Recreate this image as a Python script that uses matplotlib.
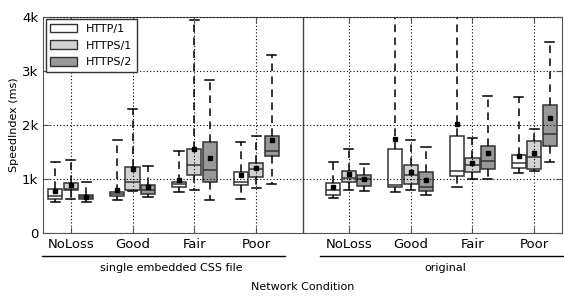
import matplotlib
matplotlib.use("Agg")
import matplotlib.pyplot as plt
from matplotlib.patches import Patch
from matplotlib.lines import Line2D

conditions = ["NoLoss", "Good", "Fair", "Poor"]
variants = ["single embedded CSS file", "original"]
protocols = ["HTTP/1", "HTTPS/1", "HTTPS/2"]

# rows: HTTP/1, HTTPS/1, HTTPS/2 ; columns: 4 conditions for each variant
whislo = [
    [570, 610, 760, 630, 650, 760, 850, 1100],
    [630, 780, 800, 840, 800, 800, 990, 1150],
    [570, 660, 610, 900, 770, 700, 990, 1310],
]
q1 = [
    [630, 690, 850, 880, 710, 850, 1050, 1200],
    [800, 800, 1070, 1030, 940, 910, 1120, 1180],
    [620, 720, 940, 1420, 870, 770, 1180, 1600],
]
med = [
    [680, 720, 900, 940, 800, 890, 1150, 1300],
    [810, 940, 1260, 1180, 1020, 1070, 1250, 1400],
    [660, 800, 1170, 1520, 1000, 850, 1330, 1830],
]
q3 = [
    [810, 750, 940, 1120, 930, 1560, 1800, 1450],
    [930, 1220, 1550, 1290, 1150, 1260, 1380, 1700],
    [700, 890, 1690, 1790, 1070, 1120, 1600, 2370],
]
whishi = [
    [1310, 1710, 1520, 1690, 1310, 4400, 4400, 2510],
    [1350, 2290, 3940, 1800, 1550, 1710, 1750, 1930],
    [940, 1230, 2820, 3290, 1280, 1590, 2530, 3530],
]
means = [
    [780, 800, 980, 1070, 850, 1730, 2020, 1420],
    [890, 1190, 1550, 1210, 1090, 1130, 1290, 1470],
    [670, 850, 1390, 1720, 990, 980, 1470, 2120],
]

fills = ["white", "#d2d2d2", "#989898"]
centers = [1, 2, 3, 4, 5.5, 6.5, 7.5, 8.5]
offsets = [-0.25, 0, 0.25]

W, H = 564, 296
fig = plt.figure(figsize=(W / 100, H / 100), dpi=100)
ax = fig.add_axes([43 / W, 1 - 233 / H, (562 - 43) / W, (233 - 16.5) / H])

for p in range(3):
    stats = []
    for i in range(len(centers)):
        stats.append(dict(whislo=whislo[p][i], q1=q1[p][i], med=med[p][i],
                          q3=q3[p][i], whishi=whishi[p][i], mean=means[p][i]))
    ax.bxp(stats, positions=[c + offsets[p] for c in centers], widths=0.23,
           capwidths=0.15, showfliers=False, showmeans=True, patch_artist=True,
           boxprops=dict(facecolor=fills[p], edgecolor="#333333", linewidth=1.1),
           medianprops=dict(color="#333333", linewidth=1.1),
           whiskerprops=dict(color="black", linestyle=(0, (5, 3.5)), linewidth=1.1),
           capprops=dict(color="black", linewidth=1.1),
           meanprops=dict(marker="s", markersize=3.5, markerfacecolor="black",
                          markeredgecolor="black"),
           manage_ticks=False)

ax.axvline(4.75, color="#444444", linewidth=1.0)
ax.set_xlim(0.55, 8.95)
ax.set_ylim(0, 4000)
ax.set_xticks(centers)
ax.set_xticklabels(conditions * 2, fontsize=9.5)
ax.set_yticks([0, 1000, 2000, 3000, 4000])
ax.set_yticklabels(["0", "1k", "2k", "3k", "4k"], fontsize=9.5)
ax.tick_params(direction="in", top=True, right=True, length=4, color="#555555")
ax.set_axisbelow(False)
ax.grid(True, color="black", linestyle=(0, (1, 2)), linewidth=0.8)
for s in ax.spines.values():
    s.set_color("#555555")
ax.set_ylabel("SpeedIndex (ms)", fontsize=8, labelpad=2)

handles = [Patch(facecolor=fills[p], edgecolor="#333333", linewidth=1.0) for p in range(3)]
leg = ax.legend(handles, protocols, loc="upper left", fontsize=8, fancybox=False,
                handlelength=2.4, handleheight=0.8, borderaxespad=0.25,
                labelspacing=0.6, framealpha=1)
leg.get_frame().set_edgecolor("#333333")

# group brackets under the condition labels
y_line = 1 - 256 / H
fig.add_artist(Line2D([42 / W, 285 / W], [y_line, y_line], color="black", linewidth=1))
fig.add_artist(Line2D([320 / W, 1.0], [y_line, y_line], color="black", linewidth=1))
fig.text(171 / W, 1 - 268 / H, variants[0], ha="center", va="center", fontsize=8)
fig.text(445 / W, 1 - 268 / H, variants[1], ha="center", va="center", fontsize=8)
fig.text(302.5 / W, 1 - 287 / H, "Network Condition", ha="center", va="center", fontsize=8)

fig.savefig("out.png", dpi=100, facecolor="white")
